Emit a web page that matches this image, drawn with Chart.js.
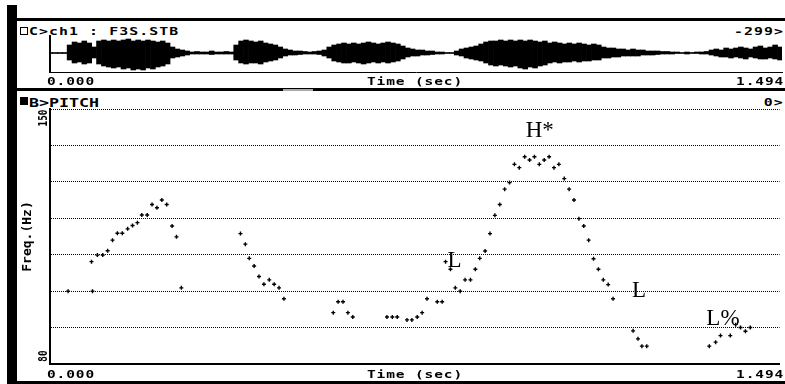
<!DOCTYPE html>
<html>
<head>
<meta charset="utf-8">
<script src="https://cdn.jsdelivr.net/npm/chart.js@4.4.1/dist/chart.umd.min.js"></script>
<style>
  html, body { margin: 0; padding: 0; background: #fff; }
  #screen { position: relative; width: 785px; height: 384px; overflow: hidden; background: #fff; }
  .rule { position: absolute; background: #000; }
  .txt { position: absolute; white-space: nowrap; color: #000; font-family: "DejaVu Sans Mono", monospace; font-weight: bold; }
  .lbl { font-size: 10px; line-height: 10px; letter-spacing: 0.6px; transform: scaleX(1.45); transform-origin: left top; }
  .head { font-size: 11px; line-height: 11px; letter-spacing: 0.8px; transform: scaleX(1.35); transform-origin: left top; }
  .big { font-size: 13px; line-height: 13px; transform: scaleX(1.28); transform-origin: left top; }
  .r { transform-origin: right top; }
  .rot { font-size: 13px; line-height: 13px; transform: translate(-50%, -50%) rotate(-90deg) scaleX(0.72); }
  .box { position: absolute; box-sizing: border-box; }
  canvas { position: absolute; }
</style>
</head>
<body>
<div id="screen">
  <!-- cadre de la fenêtre -->
  <div class="rule" style="left:7px;top:5px;width:10px;height:379px"></div>
  <div class="rule" style="left:17px;top:18px;width:768px;height:3px"></div>
  <div class="rule" style="left:17px;top:88px;width:768px;height:3px"></div>
  <div class="rule" style="left:283px;top:89px;width:30px;height:2px;background:#aaa"></div>
  <div class="rule" style="left:17px;top:381px;width:768px;height:3px"></div>

  <!-- panneau signal -->
  <div class="box" style="left:20px;top:27px;width:8px;height:8px;border:1px solid #000"></div>
  <div class="txt head" style="left:29px;top:25.5px">C&gt;ch1 : F3S.STB</div>
  <div class="txt head r" style="right:1px;top:25.5px">-299&gt;</div>
  <canvas id="wave" width="767" height="66" style="left:18px;top:22px"></canvas>
  <div class="txt lbl" style="left:47px;top:76.5px">0.000</div>
  <div class="txt lbl" style="left:367px;top:76.5px">Time (sec)</div>
  <div class="txt lbl r" style="right:1px;top:76.5px">1.494</div>

  <!-- panneau pitch -->
  <div class="box" style="left:20px;top:97px;width:8px;height:8px;background:#000"></div>
  <div class="txt big" style="left:29px;top:95.5px">B&gt;PITCH</div>
  <div class="txt head r" style="right:1px;top:96.5px">0&gt;</div>
  <canvas id="pitch" width="767" height="289" style="left:18px;top:92px"></canvas>
  <div class="txt rot" style="left:42px;top:118px">150</div>
  <div class="txt rot" style="left:42px;top:356px">80</div>
  <div class="txt lbl" style="left:47px;top:369.5px">0.000</div>
  <div class="txt lbl" style="left:367px;top:369.5px">Time (sec)</div>
  <div class="txt lbl r" style="right:1px;top:369.5px">1.494</div>
</div>

<script>
// données (temps en s, fréquence en Hz)
const duration = 1.494;

const pitchTimes = [
  0.037, 0.085, 0.087, 0.097, 0.108, 0.118, 0.128, 0.138, 0.148, 0.159,
  0.169, 0.179, 0.188, 0.199, 0.209, 0.219, 0.229, 0.239, 0.250, 0.259,
  0.269, 0.390, 0.400, 0.408, 0.418, 0.428, 0.438, 0.449, 0.459, 0.469,
  0.479, 0.580, 0.590, 0.600, 0.610, 0.620, 0.690, 0.701, 0.711, 0.731,
  0.741, 0.752, 0.762, 0.772, 0.793, 0.803, 0.810, 0.820, 0.830, 0.840,
  0.850, 0.861, 0.871, 0.880, 0.891, 0.901, 0.911, 0.921, 0.931, 0.941,
  0.951, 0.961, 0.972, 0.982, 0.992, 1.002, 1.012, 1.022, 1.032, 1.042,
  1.053, 1.063, 1.073, 1.083, 1.093, 1.103, 1.113, 1.123, 1.133, 1.143,
  1.153, 1.194, 1.204, 1.212, 1.222, 1.350, 1.363, 1.373, 1.393, 1.404,
  1.414, 1.424, 1.434
];
const pitchHz = [
  100.0, 108.1, 100.0, 109.9, 109.9, 111.1, 114.0, 115.9, 115.9, 117.1,
  118.0, 118.8, 120.9, 120.9, 123.8, 122.9, 125.0, 123.8, 117.9, 114.9,
  100.9, 115.8, 112.9, 109.0, 106.9, 104.0, 101.9, 103.1, 101.9, 100.9,
  97.9, 94.1, 97.1, 97.1, 94.1, 92.9, 92.9, 92.9, 92.9, 92.1,
  92.1, 92.9, 94.1, 97.9, 97.1, 97.1, 108.1, 106.0, 100.9, 100.0,
  103.1, 103.1, 106.0, 109.0, 111.0, 115.8, 120.8, 123.8, 128.0, 129.8,
  134.8, 133.9, 136.9, 136.0, 136.9, 134.8, 136.0, 136.9, 133.9, 134.8,
  130.9, 128.0, 125.0, 119.9, 117.9, 114.0, 108.9, 106.0, 103.1, 101.8,
  97.9, 89.1, 86.9, 84.9, 84.9, 84.9, 86.0, 87.8, 87.8, 90.8,
  90.0, 89.0, 90.0
];

// étiquettes ToBI
const toneLabels = ["H*", "L", "L", "L%"];
const toneTimes = [0.974, 0.814, 1.192, 1.344];
const toneHz = [142.3, 106.7, 98.5, 90.8];

// enveloppe du signal, une colonne toutes les 10 ms (haut / bas, unités arbitraires)
const waveStep = 0.01;
const waveUpper = [
  0.5, 0.5, 0.5, 0.5, 8, 11, 10, 12, 10, 6,
  12, 13, 12, 13, 12, 13, 14, 12, 13, 12,
  13, 12, 11, 12, 10, 6, 4, 3, 2, 1,
  1.5, 1, 1, 2, 1, 1, 1.5, 1, 8, 12,
  13, 12, 11, 12, 10, 9, 8, 6, 4, 3,
  2, 2, 1.5, 1, 1.5, 2, 3, 6, 8, 9,
  10, 9, 10, 9, 10, 11, 10, 9, 10, 11,
  10, 9, 7, 5, 4, 3, 3, 2, 2, 1,
  1, 0.5, 0.5, 2, 4, 5, 6, 7, 9, 11,
  12, 12, 13, 12, 13, 12, 13, 12, 13, 12,
  11, 12, 10, 11, 10, 9, 10, 9, 10, 9,
  8, 9, 8, 6, 5, 5, 4, 4, 3, 4,
  3, 3, 2, 2, 2, 1.5, 1.5, 1, 1, 0.5,
  1, 0.5, 1, 1, 1.5, 3, 4, 3, 5, 4,
  5, 6, 5, 4, 6, 7, 5, 6, 8, 6
];
const waveLower = [
  0.5, 0.5, 0.5, 0.5, 7, 10, 9, 11, 10, 5,
  11, 13, 14, 15, 14, 16, 15, 17, 16, 17,
  15, 16, 14, 13, 11, 5, 4, 3, 2, 1,
  1, 1, 1, 1.5, 1, 1, 1, 1, 7, 10,
  11, 10, 10, 11, 9, 8, 7, 5, 3, 2,
  2, 1.5, 1, 1, 1, 1.5, 3, 5, 8, 9,
  10, 10, 9, 10, 11, 10, 9, 10, 9, 10,
  9, 8, 6, 4, 3, 3, 2, 2, 1.5, 1,
  1, 0.5, 0.5, 2, 3, 5, 6, 7, 8, 10,
  12, 13, 12, 13, 14, 13, 15, 16, 14, 15,
  13, 12, 10, 9, 10, 9, 9, 8, 9, 8,
  8, 7, 7, 5, 5, 4, 4, 3, 3, 3,
  3, 2, 2, 2, 1.5, 1, 1, 1, 0.5, 0.5,
  1, 0.5, 0.5, 1, 1, 2, 3, 4, 4, 5,
  4, 5, 6, 4, 5, 6, 6, 5, 6, 7
];

const monoFont = "DejaVu Sans Mono";

const toneLabelPlugin = {
  id: "toneLabels",
  afterDatasetsDraw(chart) {
    const { ctx, scales } = chart;
    ctx.save();
    ctx.font = '23px "Liberation Serif", serif';
    ctx.fillStyle = "#000";
    ctx.textAlign = "left";
    ctx.textBaseline = "alphabetic";
    toneLabels.forEach((lab, i) => {
      ctx.fillText(lab, scales.x.getPixelForValue(toneTimes[i]), scales.y.getPixelForValue(toneHz[i]));
    });
    ctx.restore();
  },
};

function setupWave() {
  const ctx = document.getElementById("wave");
  new Chart(ctx, {
    type: "bar",
    data: {
      datasets: [
        {
          data: waveUpper.map((u, i) => ({ x: i * waveStep, y: [-waveLower[i], u] })),
          backgroundColor: "#000",
          borderWidth: 0,
          barPercentage: 1,
          categoryPercentage: 1,
        },
      ],
    },
    options: {
      responsive: false,
      animation: false,
      layout: { padding: { top: 14, right: 3, left: 0, bottom: 0 } },
      plugins: { legend: { display: false }, tooltip: { enabled: false } },
      scales: {
        x: {
          type: "linear",
          min: 0,
          max: duration,
          offset: false,
          ticks: { display: false },
          grid: { display: false },
          border: { display: true, color: "#000", width: 1 },
          afterFit: (s) => { s.height = 16; },
        },
        y: {
          min: -19,
          max: 17,
          ticks: { display: false },
          grid: { display: false },
          border: { display: true, color: "#000", width: 2 },
          afterFit: (s) => { s.width = 32; },
        },
      },
    },
  });
}

function setupPitch() {
  const ctx = document.getElementById("pitch");
  new Chart(ctx, {
    type: "scatter",
    data: {
      datasets: [
        {
          data: pitchTimes.map((t, i) => ({ x: t, y: pitchHz[i] })),
          pointStyle: "cross",
          pointRadius: 2,
          borderColor: "#000",
          backgroundColor: "#000",
          borderWidth: 1.4,
        },
      ],
    },
    options: {
      responsive: false,
      animation: false,
      layout: { padding: { top: 17, right: 3, left: 0, bottom: 0 } },
      plugins: { legend: { display: false }, tooltip: { enabled: false } },
      scales: {
        x: {
          type: "linear",
          min: 0,
          max: duration,
          ticks: { display: false },
          grid: { display: false },
          border: { display: true, color: "#000", width: 2 },
          afterFit: (s) => { s.height = 17; },
        },
        y: {
          min: 80,
          max: 150,
          ticks: { display: false, stepSize: 10 },
          grid: { color: "#000", lineWidth: 1, drawTicks: false },
          border: { display: true, color: "#000", width: 2, dash: [1, 1] },
          title: {
            display: true,
            text: "Freq.(Hz)",
            color: "#000",
            font: { family: monoFont, weight: "bold", size: 13, lineHeight: 1.2 },
            padding: { top: 2, bottom: 0 },
          },
          afterFit: (s) => { s.width = 32; },
        },
      },
    },
    plugins: [toneLabelPlugin],
  });
}

setupWave();
setupPitch();
</script>
</body>
</html>
